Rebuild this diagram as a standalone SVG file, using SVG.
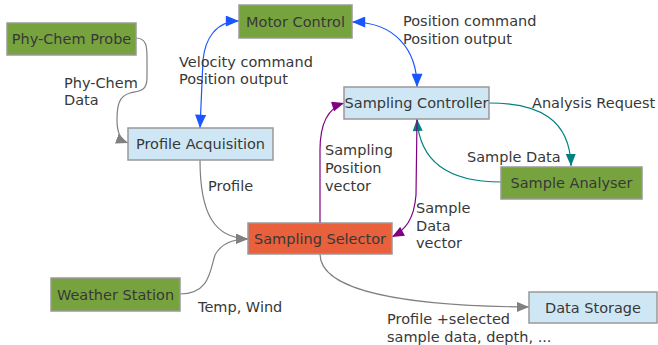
<svg xmlns="http://www.w3.org/2000/svg" width="658" height="345" viewBox="0 0 658 345">
<defs>
<style>
.box{stroke:#999999;stroke-width:1.5}
.g{fill:#77a33f}.b{fill:#cfe7f5}.o{fill:#e8603c}
text{font-family:"DejaVu Sans","Liberation Sans",sans-serif;font-size:14.5px;fill:#383838}
.t{text-anchor:middle}
.c{fill:none;stroke-width:1.2}
.gray{stroke:#808080}.blue{stroke:#1a56ff}.teal{stroke:#008080}.purp{stroke:#800080}
</style>
<marker id="aG" viewBox="0 0 12 10" refX="12" refY="5" markerWidth="12" markerHeight="10" markerUnits="userSpaceOnUse" orient="auto-start-reverse"><path d="M0,0 L12,5 L0,10 Z" fill="#808080"/></marker>
<marker id="aB" viewBox="0 0 12 10" refX="12" refY="5" markerWidth="14" markerHeight="11" markerUnits="userSpaceOnUse" orient="auto-start-reverse"><path d="M0,0 L12,5 L0,10 Z" fill="#1a56ff"/></marker>
<marker id="aT" viewBox="0 0 12 10" refX="12" refY="5" markerWidth="13" markerHeight="10" markerUnits="userSpaceOnUse" orient="auto-start-reverse"><path d="M0,0 L12,5 L0,10 Z" fill="#008080"/></marker>
<marker id="aP" viewBox="0 0 12 10" refX="12" refY="5" markerWidth="13" markerHeight="10" markerUnits="userSpaceOnUse" orient="auto-start-reverse"><path d="M0,0 L12,5 L0,10 Z" fill="#800080"/></marker>
</defs>
<rect width="658" height="345" fill="#ffffff"/>
<g id="connectors">
<path class="c gray" d="M136,38 C147,38 147,48 147,58 L147,78 C147,92 138,91 130,93 C119,96 117,105 117,120 C117,132 120,140 128,143" marker-end="url(#aG)"/>
<path class="c blue" d="M239,21 C215,21 205,40 203,60 L200,128" marker-start="url(#aB)" marker-end="url(#aB)"/>
<path class="c blue" d="M352,22 C395,22 417,50 417,87" marker-start="url(#aB)" marker-end="url(#aB)"/>
<path class="c teal" d="M489,103 C540,103 570,120 571,166" marker-end="url(#aT)"/>
<path class="c teal" d="M501,182 C460,182 420,170 417,119" marker-end="url(#aT)"/>
<path class="c purp" d="M320,223 L320,150 C320,125 328,108 344,103" marker-end="url(#aP)"/>
<path class="c purp" d="M417,119 L416,195 C414,220 405,230 392,237" marker-end="url(#aP)"/>
<path class="c gray" d="M200,160 C200,215 215,238 248,239" marker-end="url(#aG)"/>
<path class="c gray" d="M180,294 C210,294 210,270 215,255 C222,242 235,239 248,239" marker-end="url(#aG)"/>
<path class="c gray" d="M320,254 C320,290 400,306 529,307" marker-end="url(#aG)"/>
</g>
<g id="phychem"><rect class="box g" x="7" y="23" width="129" height="32"/><text class="t" x="71.5" y="44">Phy-Chem Probe</text></g>
<g id="motor"><rect class="box g" x="239" y="5" width="113" height="33"/><text class="t" x="295.5" y="27">Motor Control</text></g>
<g id="profile"><rect class="box b" x="128" y="128" width="145" height="32"/><text class="t" x="200.5" y="149">Profile Acquisition</text></g>
<g id="controller"><rect class="box b" x="344" y="87" width="145" height="32"/><text class="t" x="416.5" y="108">Sampling Controller</text></g>
<g id="analyser"><rect class="box g" x="501" y="167" width="141" height="32"/><text class="t" x="571.5" y="188">Sample Analyser</text></g>
<g id="selector"><rect class="box o" x="248" y="223" width="144" height="31"/><text class="t" x="320" y="244">Sampling Selector</text></g>
<g id="weather"><rect class="box g" x="51" y="278" width="129" height="33"/><text class="t" x="115.5" y="300">Weather Station</text></g>
<g id="storage"><rect class="box b" x="529" y="292" width="128" height="31"/><text class="t" x="593" y="313">Data Storage</text></g>
<g id="labels">
<text x="64" y="88">Phy-Chem</text><text x="64" y="105">Data</text>
<text x="179" y="67">Velocity command</text><text x="179" y="84">Position output</text>
<text x="208" y="191">Profile</text>
<text x="403" y="26">Position command</text><text x="403" y="44">Position output</text>
<text x="532" y="108">Analysis Request</text>
<text x="467" y="162">Sample Data</text>
<text x="325" y="155">Sampling</text><text x="325" y="173">Position</text><text x="325" y="191">vector</text>
<text x="416" y="213">Sample</text><text x="416" y="231">Data</text><text x="416" y="248">vector</text>
<text x="198" y="312">Temp, Wind</text>
<text x="387" y="324">Profile +selected</text><text x="387" y="342">sample data, depth, ...</text>
</g>
</svg>
